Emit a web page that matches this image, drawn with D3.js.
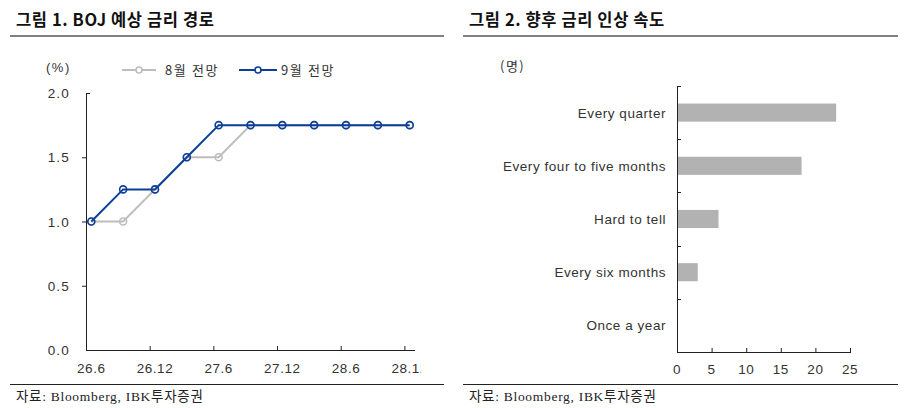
<!DOCTYPE html>
<html><head><meta charset="utf-8">
<script src="https://cdn.jsdelivr.net/npm/d3@7"></script>
<style>
body{margin:0;background:#fff;}
svg{display:block;}
</style></head>
<body>
<svg id="c" width="914" height="408"></svg>
<script>
// ---- Chart 1 data ----
const months = ["26.6","26.9","26.12","27.3","27.6","27.9","27.12","28.3","28.6","28.9","28.12"];
const monthIndex = [0,3,6,9,12,15,18,21,24,27,30];
const augForecast = [1.0,1.0,1.25,1.5,1.5,1.75,1.75,1.75,1.75,1.75,1.75];
const sepForecast = [1.0,1.25,1.25,1.5,1.75,1.75,1.75,1.75,1.75,1.75,1.75];
const xTickLabels = ["26.6","26.12","27.6","27.12","28.6","28.12"];
const xTickIndex = [0,6,12,18,24,30];
const yTicks = [0.0,0.5,1.0,1.5,2.0];
const seriesNames = ["8월 전망","9월 전망"];

// ---- Chart 2 data ----
const speedCats = ["Every quarter","Every four to five months","Hard to tell","Every six months","Once a year"];
const speedVals = [23,18,6,3,0];
const speedTicks = [0,5,10,15,20,25];

const svg = d3.select("#c");
const sans = "'Liberation Sans', Arial, 'Noto Sans CJK KR', sans-serif";
const kr = "'Noto Sans CJK KR', sans-serif";
const serif = "'Liberation Serif', 'Noto Sans CJK KR', serif";
const txt = "#333";
const fs = 13.5, ls = 0.55;

// Panel frames
function frame(x0, x1, title) {
  svg.append("text").attr("x", x0 + 6).attr("y", 26).attr("font-family", kr)
    .attr("font-weight", "bold").attr("font-size", 16.5).attr("letter-spacing", 0.6)
    .attr("fill", "#111").text(title);
  svg.append("line").attr("x1", x0).attr("x2", x1).attr("y1", 36).attr("y2", 36)
    .attr("stroke", "#808080").attr("stroke-width", 2);
  svg.append("line").attr("x1", x0).attr("x2", x1).attr("y1", 384.5).attr("y2", 384.5)
    .attr("stroke", "#222").attr("stroke-width", 1);
  svg.append("text").attr("x", x0 + 6).attr("y", 401).attr("font-family", serif)
    .attr("font-size", 13.5).attr("letter-spacing", 0.7).attr("fill", "#222").text("자료: Bloomberg, IBK투자증권");
}
frame(10, 444, "그림 1. BOJ 예상 금리 경로");
frame(463, 898, "그림 2. 향후 금리 인상 속도");

// ---- Chart 1 ----
const x = d3.scaleLinear().domain([-0.5, 30.5]).range([86, 415]);
const y = d3.scaleLinear().domain([0, 2]).range([350, 93]);
const g1 = svg.append("g");

// y axis
g1.append("line").attr("x1", 86.5).attr("x2", 86.5).attr("y1", y(2)).attr("y2", y(0)).attr("stroke", "#222");
yTicks.forEach(t => {
  if (t === 2) {
    g1.append("line").attr("x1", 86).attr("x2", 90).attr("y1", y(t) + 0.5).attr("y2", y(t) + 0.5).attr("stroke", "#222");
  } else if (t > 0) {
    g1.append("line").attr("x1", 82).attr("x2", 86).attr("y1", y(t) + 0.5).attr("y2", y(t) + 0.5).attr("stroke", "#222");
  }
  g1.append("text").attr("x", 70).attr("y", y(t) + 5).attr("text-anchor", "end")
    .attr("font-family", sans).attr("font-size", fs).attr("letter-spacing", 1.2).attr("fill", txt).text(t.toFixed(1));
});
g1.append("text").attr("x", 46).attr("y", 72).attr("font-family", sans).attr("font-size", 13)
  .attr("letter-spacing", 1.5).attr("fill", txt).text("(%)");

// x axis
g1.append("line").attr("x1", 86).attr("x2", 415).attr("y1", 350.5).attr("y2", 350.5).attr("stroke", "#222");
xTickIndex.forEach(i => {
  if (i > 0) g1.append("line").attr("x1", x(i - 0.5) + 0.5).attr("x2", x(i - 0.5) + 0.5)
    .attr("y1", 346).attr("y2", 350).attr("stroke", "#222");
});
svg.append("clipPath").attr("id", "xclip").append("rect").attr("x", 0).attr("y", 350).attr("width", 421).attr("height", 30);
const xl = g1.append("g").attr("clip-path", "url(#xclip)");
xTickLabels.forEach((l, k) => {
  xl.append("text").attr("x", x(xTickIndex[k])).attr("y", 373).attr("text-anchor", "middle")
    .attr("font-family", sans).attr("font-size", fs).attr("letter-spacing", ls).attr("fill", txt).text(l);
});

// lines
const colors = ["#bdbdbd", "#0b3f98"];
const series = [augForecast, sepForecast];
const line = d3.line().x((d, i) => x(monthIndex[i])).y(d => y(d));
series.forEach((s, k) => {
  g1.append("path").datum(s).attr("d", line).attr("fill", "none")
    .attr("stroke", colors[k]).attr("stroke-width", 2);
  g1.selectAll(null).data(s).enter().append("circle")
    .attr("cx", (d, i) => x(monthIndex[i])).attr("cy", d => y(d)).attr("r", 3.5)
    .attr("fill", "none").attr("stroke", colors[k]).attr("stroke-width", 1.6);
});

// legend
const legX = [122, 239];
seriesNames.forEach((n, k) => {
  const lx = legX[k];
  const w = k === 0 ? 34 : 38;
  g1.append("line").attr("x1", lx).attr("x2", lx + w).attr("y1", 70).attr("y2", 70)
    .attr("stroke", colors[k]).attr("stroke-width", 2);
  g1.append("circle").attr("cx", lx + w / 2).attr("cy", 70).attr("r", 3)
    .attr("fill", "#fff").attr("stroke", colors[k]).attr("stroke-width", 1.6);
  g1.append("text").attr("x", k === 0 ? lx + w + 9 : lx + w + 4).attr("y", 75).attr("font-family", kr)
    .attr("font-size", 13).attr("letter-spacing", 1.6).attr("fill", txt).text(n);
});

// ---- Chart 2 ----
const bx = d3.scaleLinear().domain([0, 25]).range([677, 850]);
const by = d3.scaleBand().domain(speedCats).range([86, 352]).paddingInner(0.66).paddingOuter(0.33);
const g2 = svg.append("g");

g2.selectAll(null).data(speedCats).enter().append("rect")
  .attr("x", bx(0)).attr("y", d => by(d)).attr("height", by.bandwidth())
  .attr("width", (d, i) => bx(speedVals[i]) - bx(0)).attr("fill", "#b2b2b2");

g2.append("line").attr("x1", 677.5).attr("x2", 677.5).attr("y1", 86).attr("y2", 352).attr("stroke", "#222");
const step = (352 - 86) / speedCats.length;
speedCats.forEach((c, i) => {
  const ty = 86 + i * step;
  g2.append("line").attr("x1", 677).attr("x2", 681).attr("y1", Math.round(ty) + 0.5).attr("y2", Math.round(ty) + 0.5).attr("stroke", "#222");
  g2.append("text").attr("x", 666).attr("y", by(c) + by.bandwidth() / 2 + 5).attr("text-anchor", "end")
    .attr("font-family", sans).attr("font-size", fs).attr("letter-spacing", ls).attr("fill", txt).text(c);
});
g2.append("line").attr("x1", 677).attr("x2", 851).attr("y1", 352.5).attr("y2", 352.5).attr("stroke", "#222");
speedTicks.forEach(t => {
  if (t > 0) g2.append("line").attr("x1", bx(t) + 0.5).attr("x2", bx(t) + 0.5).attr("y1", 348).attr("y2", 352).attr("stroke", "#222");
  g2.append("text").attr("x", bx(t)).attr("y", 374).attr("text-anchor", "middle")
    .attr("font-family", sans).attr("font-size", fs).attr("letter-spacing", ls).attr("fill", txt).text(t);
});
g2.append("text").attr("x", 500).attr("y", 71).attr("font-family", kr).attr("font-size", 13)
  .attr("letter-spacing", 1.5).attr("fill", txt).text("(명)");
</script>
</body></html>
